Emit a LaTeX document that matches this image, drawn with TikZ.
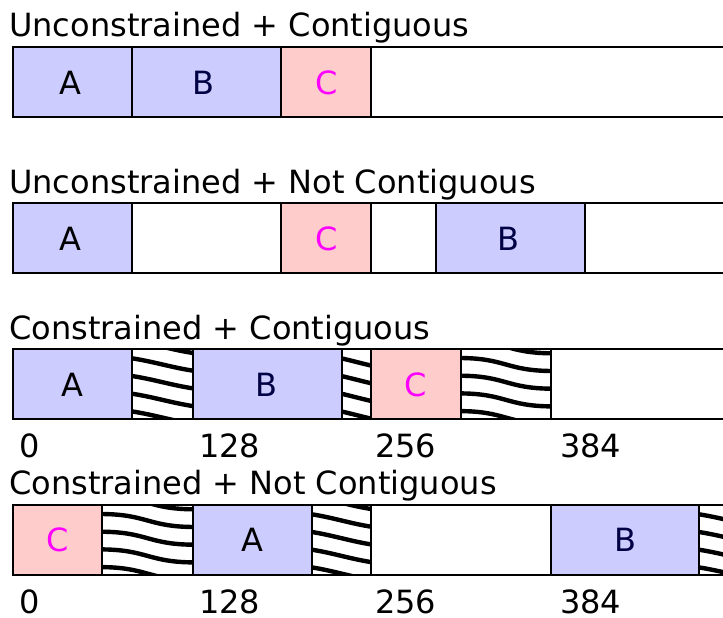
\documentclass[tikz,border=0pt]{standalone}
\usepackage{fontspec}
\setmainfont{DejaVu Sans}
\definecolor{blk}{HTML}{CCCCFF}
\definecolor{pnk}{HTML}{FFCCCC}
\definecolor{navy}{HTML}{000044}
\definecolor{mag}{HTML}{FF00FF}
\newcommand\seg[4]{\fill[#4] (#1,#3) rectangle (#2,#3+70);}
\newcommand\divider[2]{\draw[bord] (#1,#2) -- (#1,#2+70);}
% #1 x0, #2 x1, #3 ytop, #4 drop, #5 control fraction (0.5 = S-curve, 0.33 = near straight)
\newcommand\wavy[5]{%
  \begin{scope}
    \clip (#1,#3) rectangle (#2,#3+70);
    \pgfmathsetmacro\cxa{#1+#5*(#2-#1)}
    \pgfmathsetmacro\cxb{#2-#5*(#2-#1)}
    \pgfmathsetmacro\flat{(#5-0.33)/0.17}
    \pgfmathsetmacro\dya{0.33*#4*(1-\flat)}
    \pgfmathsetmacro\dyb{#4-\dya}
    \foreach \k in {-1,...,4}{
      \pgfmathsetmacro\yy{#3+9+17.7*\k}
      \pgfmathsetmacro\ya{\yy+\dya}
      \pgfmathsetmacro\yb{\yy+\dyb}
      \pgfmathsetmacro\yc{\yy+#4}
      \draw[wave] (#1-2,\yy) .. controls (\cxa,\ya) and (\cxb,\yb) .. (#2+2,\yc);
    }
  \end{scope}}
\newcommand\barframe[1]{\draw[bord] (740,#1) -- (13,#1) -- (13,#1+70) -- (740,#1+70);}
\begin{document}
\begin{tikzpicture}[x=1pt,y=-1pt,
  bord/.style={line width=2pt, line join=miter},
  wave/.style={line width=4.4pt},
  ttl/.style={anchor=base west, inner sep=0pt, font=\fontsize{32}{38}\selectfont},
  lbl/.style={anchor=base, inner sep=0pt, font=\fontsize{32}{38}\selectfont},
  num/.style={anchor=base west, inner sep=0pt, font=\fontsize{32}{38}\selectfont}]
\useasboundingbox (0,0) rectangle (723,618);
\begin{scope}
\clip (0,0) rectangle (723,618);
% ---------- Row 1 ----------
\node[ttl] (t1) at (9,37) {Unconstrained + Contiguous};
\seg{13}{132}{47}{blk}
\seg{132}{281}{47}{blk}
\seg{281}{371}{47}{pnk}
\divider{132}{47}\divider{281}{47}\divider{371}{47}
\barframe{47}
\node[lbl, text=black] (a1) at (70,94) {A};
\node[lbl, text=navy] (b1) at (203,94) {B};
\node[lbl, text=mag] (c1) at (327,94) {C};
% ---------- Row 2 ----------
\node[ttl] (t2) at (9,193) {Unconstrained + Not Contiguous};
\seg{13}{132}{203}{blk}
\seg{281}{371}{203}{pnk}
\seg{436}{585}{203}{blk}
\divider{132}{203}\divider{281}{203}\divider{371}{203}\divider{436}{203}\divider{585}{203}
\barframe{203}
\node[lbl, text=black] (a2) at (70,250) {A};
\node[lbl, text=mag] (c2) at (327,250) {C};
\node[lbl, text=navy] (b2) at (508,250) {B};
% ---------- Row 3 ----------
\node[ttl] (t3) at (9,339) {Constrained + Contiguous};
\seg{13}{132}{349}{blk}
\wavy{132}{193}{349}{13}{0.36}
\seg{193}{342}{349}{blk}
\wavy{342}{371}{349}{8}{0.33}
\seg{371}{461}{349}{pnk}
\wavy{461}{551}{349}{13}{0.5}
\divider{132}{349}\divider{193}{349}\divider{342}{349}\divider{371}{349}\divider{461}{349}\divider{551}{349}
\barframe{349}
\node[lbl, text=black] (a3) at (72,396) {A};
\node[lbl, text=navy] (b3) at (266,396) {B};
\node[lbl, text=mag] (c3) at (416,396) {C};
\node[num] (n30) at (19,457) {0};
\node[num] (n31) at (199,457) {128};
\node[num] (n32) at (375,457) {256};
\node[num] (n33) at (560,457) {384};
% ---------- Row 4 ----------
\node[ttl] (t4) at (9,494) {Constrained + Not Contiguous};
\seg{13}{102}{505}{pnk}
\wavy{102}{193}{505}{13}{0.5}
\seg{193}{312}{505}{blk}
\wavy{312}{371}{505}{13}{0.36}
\seg{551}{699}{505}{blk}
\wavy{699}{760}{505}{13}{0.36}
\divider{102}{505}\divider{193}{505}\divider{312}{505}\divider{371}{505}\divider{551}{505}\divider{699}{505}
\barframe{505}
\node[lbl, text=mag] (c4) at (58,551) {C};
\node[lbl, text=black] (a4) at (252,551) {A};
\node[lbl, text=navy] (b4) at (625,551) {B};
\node[num] (n40) at (19,613) {0};
\node[num] (n41) at (199,613) {128};
\node[num] (n42) at (375,613) {256};
\node[num] (n43) at (560,613) {384};
\end{scope}
\end{tikzpicture}
\end{document}
